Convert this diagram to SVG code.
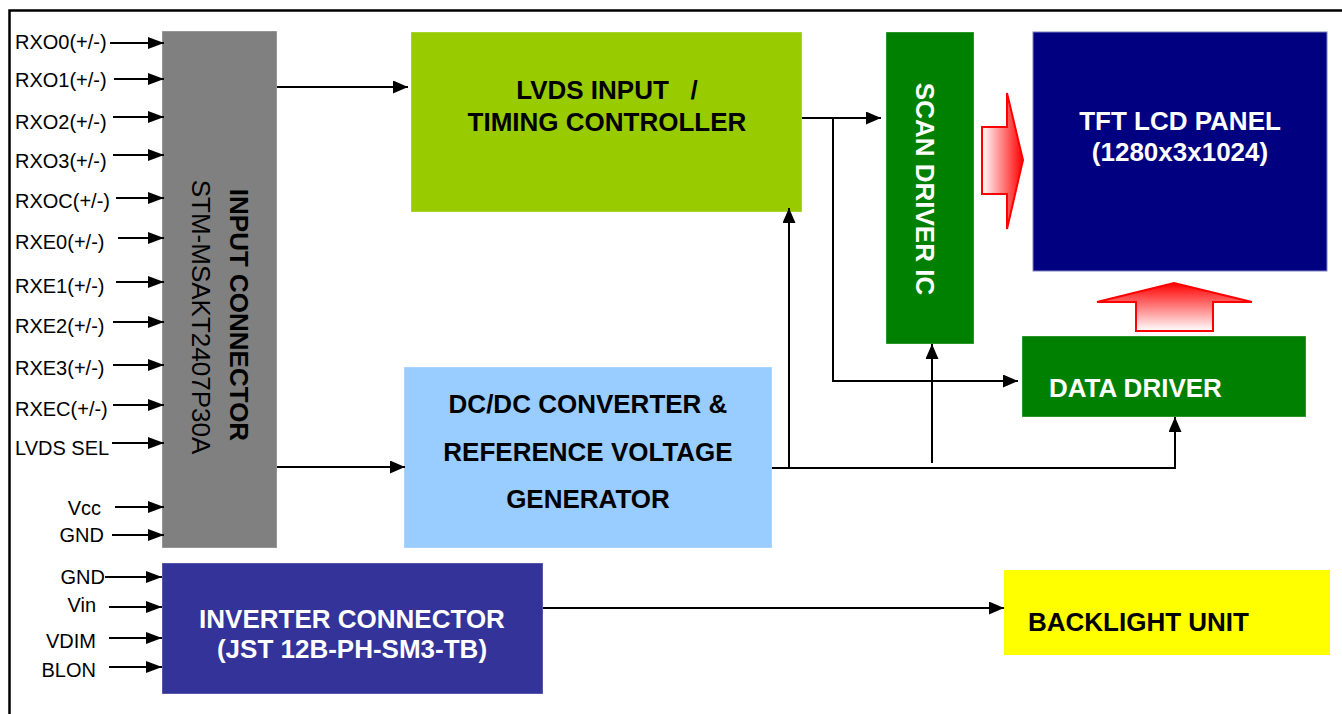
<svg xmlns="http://www.w3.org/2000/svg" width="1342" height="714" viewBox="0 0 1342 714">
<style>
text{font-family:"Liberation Sans",Arial,sans-serif;}
.lbl{font-size:20px;fill:#000;}
.b{font-size:26px;font-weight:bold;}
.w{fill:#fff;}
.k{fill:#000;}
.c{text-anchor:middle;}
.ln{stroke:#000;stroke-width:2;fill:none;}
.box{stroke:rgba(255,255,255,0.35);stroke-width:1;}
</style>
<defs>
<marker id="ah" markerUnits="userSpaceOnUse" markerWidth="16" markerHeight="13" refX="15" refY="6.5" orient="auto">
<path d="M0,0 L15,6.5 L0,13 z" fill="#000"/>
</marker>
<marker id="ahs" markerUnits="userSpaceOnUse" markerWidth="17" markerHeight="12" refX="16" refY="6" orient="auto">
<path d="M0,0 L16,6 L0,12 z" fill="#000"/>
</marker>
<linearGradient id="gr" x1="0" y1="0" x2="1" y2="0">
<stop offset="0" stop-color="#fff"/>
<stop offset="1" stop-color="#f00"/>
</linearGradient>
<linearGradient id="gu" x1="0" y1="1" x2="0" y2="0">
<stop offset="0" stop-color="#fff"/>
<stop offset="1" stop-color="#f00"/>
</linearGradient>
</defs>
<rect width="1342" height="714" fill="#fff"/>
<path d="M9.5,714 V10.5 H1342" stroke="#000" stroke-width="2.5" fill="none"/>

<g id="input-labels">
<text class="lbl" x="15" y="49">RXO0(+/-)</text>
<text class="lbl" x="15" y="87">RXO1(+/-)</text>
<text class="lbl" x="15" y="129">RXO2(+/-)</text>
<text class="lbl" x="15" y="168">RXO3(+/-)</text>
<text class="lbl" x="15" y="208">RXOC(+/-)</text>
<text class="lbl" x="15" y="249">RXE0(+/-)</text>
<text class="lbl" x="15" y="293">RXE1(+/-)</text>
<text class="lbl" x="15" y="333">RXE2(+/-)</text>
<text class="lbl" x="15" y="375">RXE3(+/-)</text>
<text class="lbl" x="15" y="416">RXEC(+/-)</text>
<text class="lbl" x="15" y="455">LVDS SEL</text>
<text class="lbl" x="101" y="515" text-anchor="end">Vcc</text>
<text class="lbl" x="104" y="542" text-anchor="end">GND</text>
<text class="lbl" x="105" y="584" text-anchor="end">GND</text>
<text class="lbl" x="96" y="612" text-anchor="end">Vin</text>
<text class="lbl" x="96" y="648" text-anchor="end">VDIM</text>
<text class="lbl" x="96" y="677" text-anchor="end">BLON</text>
</g>

<g id="input-connector">
<rect class="box" x="162" y="31" width="115" height="517" fill="#808080"/>
<text class="b k c" transform="translate(230,315) rotate(90)">INPUT CONNECTOR</text>
<text class="k c" style="font-size:26px" transform="translate(192,317) rotate(90)">STM-MSAKT2407P30A</text>
</g>

<g id="lvds-timing-controller">
<rect class="box" x="411" y="32" width="391" height="180" fill="#99cc00"/>
<text class="b k c" x="607" y="99" xml:space="preserve">LVDS INPUT   /</text>
<text class="b k c" x="607" y="131">TIMING CONTROLLER</text>
</g>

<g id="dcdc-converter">
<rect class="box" x="404" y="367" width="368" height="181" fill="#99ccff"/>
<text class="b k c" x="588" y="413">DC/DC CONVERTER &amp;</text>
<text class="b k c" x="588" y="461">REFERENCE VOLTAGE</text>
<text class="b k c" x="588" y="508">GENERATOR</text>
</g>

<g id="scan-driver">
<rect class="box" x="886" y="32" width="88" height="312" fill="#008000"/>
<text class="b w c" transform="translate(916,189) rotate(90)">SCAN DRIVER IC</text>
</g>

<g id="tft-panel">
<rect x="1033" y="32" width="294" height="239" fill="#000080" stroke="#8080c0" stroke-width="1"/>
<text class="b w c" x="1180" y="130">TFT LCD PANEL</text>
<text class="b w c" x="1180" y="161">(1280x3x1024)</text>
</g>

<g id="data-driver">
<rect class="box" x="1022" y="336" width="284" height="81" fill="#008000"/>
<text class="b w" x="1049" y="397">DATA DRIVER</text>
</g>

<g id="inverter-connector">
<rect class="box" x="162" y="563" width="381" height="131" fill="#333399"/>
<text class="b w c" x="352" y="628">INVERTER CONNECTOR</text>
<text class="b w c" x="352" y="658">(JST 12B-PH-SM3-TB)</text>
</g>

<g id="backlight-unit">
<rect x="1004" y="570" width="326" height="85" fill="#ffff00"/>
<text class="b k" x="1028" y="631">BACKLIGHT UNIT</text>
</g>

<g id="red-arrows">
<polygon points="982,127 1007,127 1007,93 1023,160 1007,229 1007,194 982,194" fill="url(#gr)" stroke="#f00" stroke-width="2"/>
<polygon points="1136,331 1136,302 1097,302 1174,283 1252,302 1213,302 1213,331" fill="url(#gu)" stroke="#f00" stroke-width="2"/>
</g>

<g id="connectors">
<line class="ln" x1="110" y1="43" x2="164" y2="43" marker-end="url(#ahs)"/>
<line class="ln" x1="114" y1="79" x2="164" y2="79" marker-end="url(#ahs)"/>
<line class="ln" x1="113" y1="117" x2="164" y2="117" marker-end="url(#ahs)"/>
<line class="ln" x1="113" y1="155" x2="164" y2="155" marker-end="url(#ahs)"/>
<line class="ln" x1="116" y1="198" x2="164" y2="198" marker-end="url(#ahs)"/>
<line class="ln" x1="118" y1="238" x2="164" y2="238" marker-end="url(#ahs)"/>
<line class="ln" x1="116" y1="282" x2="164" y2="282" marker-end="url(#ahs)"/>
<line class="ln" x1="113" y1="322" x2="164" y2="322" marker-end="url(#ahs)"/>
<line class="ln" x1="113" y1="365" x2="164" y2="365" marker-end="url(#ahs)"/>
<line class="ln" x1="113" y1="405" x2="164" y2="405" marker-end="url(#ahs)"/>
<line class="ln" x1="112" y1="443" x2="164" y2="443" marker-end="url(#ahs)"/>
<line class="ln" x1="115" y1="507" x2="164" y2="507" marker-end="url(#ahs)"/>
<line class="ln" x1="112" y1="535" x2="164" y2="535" marker-end="url(#ahs)"/>
<line class="ln" x1="105" y1="577" x2="162" y2="577" marker-end="url(#ahs)"/>
<line class="ln" x1="109" y1="607" x2="162" y2="607" marker-end="url(#ahs)"/>
<line class="ln" x1="109" y1="638" x2="162" y2="638" marker-end="url(#ahs)"/>
<line class="ln" x1="109" y1="667" x2="162" y2="667" marker-end="url(#ahs)"/>
<line class="ln" x1="277" y1="87" x2="408" y2="87" marker-end="url(#ah)"/>
<line class="ln" x1="277" y1="467" x2="405" y2="467" marker-end="url(#ah)"/>
<line class="ln" x1="802" y1="118" x2="881" y2="118" marker-end="url(#ah)"/>
<polyline class="ln" points="833,118 833,381 1018,381" marker-end="url(#ah)"/>
<polyline class="ln" points="772,468 1175,468 1175,417" marker-end="url(#ah)"/>
<line class="ln" x1="789" y1="468" x2="789" y2="208" marker-end="url(#ah)"/>
<line class="ln" x1="932" y1="463" x2="932" y2="344" marker-end="url(#ah)"/>
<line class="ln" x1="543" y1="608" x2="1004" y2="608" marker-end="url(#ah)"/>
</g>
</svg>
